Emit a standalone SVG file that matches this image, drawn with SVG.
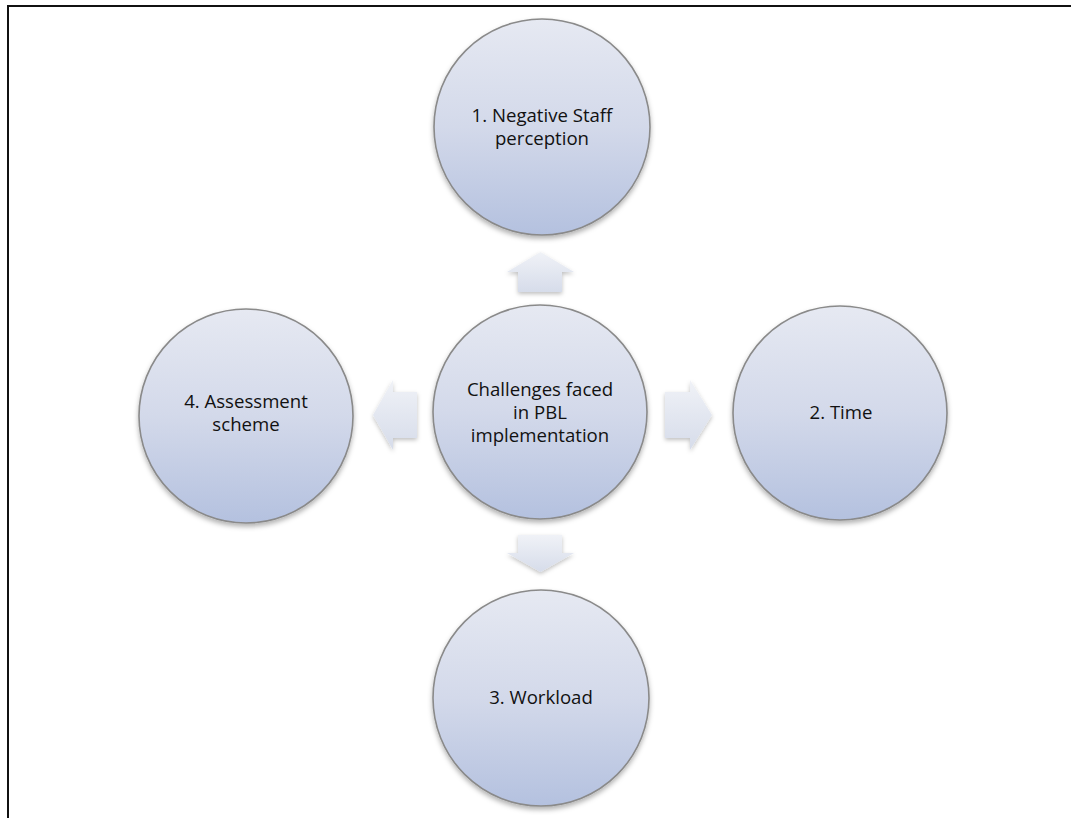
<svg xmlns="http://www.w3.org/2000/svg" width="1071" height="818" viewBox="0 0 1071 818">
<style>
.node circle{fill:url(#gNode);stroke:#8a8a8a;stroke-width:1.6;filter:url(#sh)}
.node text{font-family:"Open Sans","Liberation Sans",Arial,sans-serif;font-size:18.6px;fill:#111;text-anchor:middle}
.arr{fill:url(#gArr);stroke:none;filter:url(#shA)}
</style>
<defs>
<linearGradient id="gNode" x1="0" y1="0" x2="0" y2="1">
<stop offset="0" stop-color="#e6e9f2"/>
<stop offset="0.5" stop-color="#d3d9ea"/>
<stop offset="1" stop-color="#b4c1df"/>
</linearGradient>
<linearGradient id="gArr" x1="0" y1="0" x2="0" y2="1">
<stop offset="0" stop-color="#f0f2f7"/>
<stop offset="1" stop-color="#d6dcea"/>
</linearGradient>
<filter id="sh" x="-20%" y="-20%" width="140%" height="150%">
<feDropShadow dx="0" dy="3" stdDeviation="2.5" flood-color="#000" flood-opacity="0.3"/>
</filter>
<filter id="shA" x="-30%" y="-30%" width="160%" height="170%">
<feDropShadow dx="0" dy="2" stdDeviation="2" flood-color="#000" flood-opacity="0.25"/>
</filter>
</defs>
<rect width="1071" height="818" fill="#fff"/>
<path d="M8,818 V6 H1071" fill="none" stroke="#111" stroke-width="2"/>
<g id="connectors">
<path class="arr" d="M518,292 V272 H507 L540.5,252 L574,272 H562 V292 Z"/>
<path class="arr" d="M518,535 H562 V553 H574 L540.5,572 L507,553 H518 Z"/>
<path class="arr" d="M417,392 V438 H393 V450 L373,415 L393,380 V392 Z"/>
<path class="arr" d="M665,392 H690 V380 L712,415 L690,450 V438 H665 Z"/>
</g>
<g id="node-top" class="node">
<circle cx="542" cy="127" r="108"/>
<text x="542" y="122">1. Negative Staff</text>
<text x="542" y="145">perception</text>
</g>
<g id="node-center" class="node">
<circle cx="540" cy="412" r="107"/>
<text x="540" y="396">Challenges faced</text>
<text x="540" y="419">in PBL</text>
<text x="540" y="442">implementation</text>
</g>
<g id="node-right" class="node">
<circle cx="840" cy="413" r="107"/>
<text x="841" y="419">2. Time</text>
</g>
<g id="node-bottom" class="node">
<circle cx="541" cy="698" r="108"/>
<text x="541" y="704">3. Workload</text>
</g>
<g id="node-left" class="node">
<circle cx="246" cy="416" r="107"/>
<text x="246" y="408">4. Assessment</text>
<text x="246" y="431">scheme</text>
</g>
</svg>
